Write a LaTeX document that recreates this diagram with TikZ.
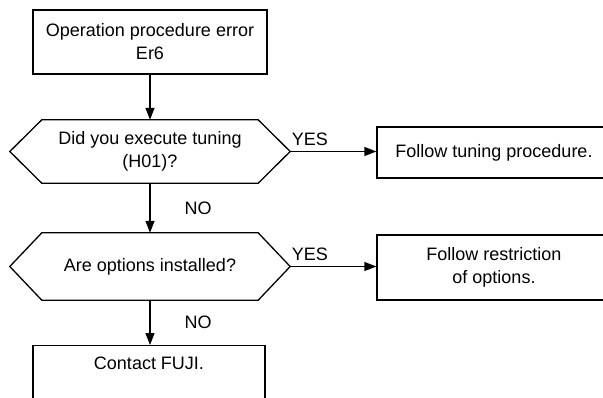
\documentclass[tikz,border=0pt]{standalone}
\usepackage{fontspec}
\setmainfont{Liberation Sans}
\usetikzlibrary{positioning,arrows.meta,calc}
\tikzset{
  procbox/.style={
    rectangle,
    draw,
    line width=1.3pt,
    inner sep=0pt,
    align=center,
    font=\fontsize{18}{23}\selectfont
  },
  decision/.style={
    rectangle,
    inner sep=0pt,
    align=center,
    font=\fontsize{18}{23}\selectfont
  },
  flow/.style={
    -{Triangle[length=12pt,width=9pt]},
    line width=1.3pt
  },
  answer/.style={
    font=\fontsize{18}{23}\selectfont,
    inner sep=1pt
  }
}
\begin{document}
\begin{tikzpicture}[x=1pt,y=-1pt]
  \useasboundingbox[fill=white] (0,0) rectangle (603,397);

  % Start box
  \node[procbox, minimum width=234pt, minimum height=64pt] (err) at (150,42)
    {Operation procedure error\\Er6};

  % Decisions
  \node[decision, minimum width=280pt, minimum height=63pt] (tune) at (150,151.5)
    {Did you execute tuning\\(H01)?};
  \node[decision, minimum width=280pt, minimum height=67pt] (opt) at (150,266.5)
    {Are options installed?};
  \foreach \h in {tune,opt} {
    \draw[line width=1.3pt] (\h.west) -- ([xshift=32pt]\h.north west)
      -- ([xshift=-32pt]\h.north east) -- (\h.east)
      -- ([xshift=-32pt]\h.south east) -- ([xshift=32pt]\h.south west) -- cycle;
  }

  % Actions
  \node[procbox, minimum width=234pt, minimum height=51pt] (follow1) at (494,152.5)
    {Follow tuning procedure.};
  \node[procbox, minimum width=234pt, minimum height=65pt] (follow2) at (494,267.5)
    {Follow restriction\\of options.};
  \node[procbox, minimum width=232pt, text height=24pt, text depth=46pt,
    anchor=north] (contact) at (149,345) {Contact FUJI.};

  % Connections
  \draw[flow] (err.south) -- (tune.north);
  \draw[flow] (tune.east) -- (tune.east -| follow1.west)
    node[answer, pos=0, above right, yshift=4pt] {YES};
  \draw[flow] (tune.south) -- (opt.north)
    node[answer, midway, right, xshift=33pt] {NO};
  \draw[flow] (opt.east) -- (opt.east -| follow2.west)
    node[answer, pos=0, above right, yshift=4pt] {YES};
  \draw[flow] (opt.south) -- (opt.south |- contact.north)
    node[answer, midway, right, xshift=33pt] {NO};

\end{tikzpicture}
\end{document}
